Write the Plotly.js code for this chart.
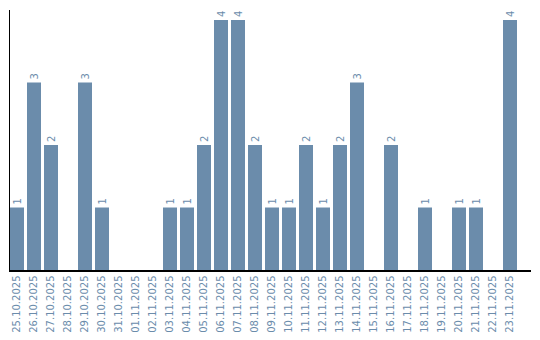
<!DOCTYPE html>
<html><head><meta charset="utf-8">
<script src="https://cdn.plot.ly/plotly-3.0.1.min.js"></script>
<style>body{margin:0}</style></head>
<body><div id="chart" style="width:540px;height:340px"></div>
<script>
const dates = ["25.10.2025","26.10.2025","27.10.2025","28.10.2025","29.10.2025","30.10.2025","31.10.2025","01.11.2025","02.11.2025","03.11.2025","04.11.2025","05.11.2025","06.11.2025","07.11.2025","08.11.2025","09.11.2025","10.11.2025","11.11.2025","12.11.2025","13.11.2025","14.11.2025","15.11.2025","16.11.2025","17.11.2025","18.11.2025","19.11.2025","20.11.2025","21.11.2025","22.11.2025","23.11.2025"];
const counts = [1,3,2,0,3,1,0,0,0,1,1,2,4,4,2,1,1,2,1,2,3,0,2,0,1,0,1,1,0,4];
const labels = counts.map(v => v > 0 ? String(v) : "");
const col = "#6b8cab";
Plotly.newPlot("chart", [{
  type: "bar", x: dates, y: counts, text: labels,
  textposition: "outside", textangle: -90, cliponaxis: false,
  textfont: {family: "DejaVu Sans", size: 10, color: col},
  marker: {color: col}, hoverinfo: "none"
}], {
  width: 540, height: 340,
  margin: {l: 10, r: 9, t: 10, b: 70},
  bargap: 0.1765,
  paper_bgcolor: "#fff", plot_bgcolor: "#fff",
  showlegend: false,
  xaxis: {type: "category", range: [-0.4118, 30.235], showline: true, linecolor: "#000", linewidth: 1.5, showgrid: false, ticks: "", tickangle: -90,
          tickfont: {family: "DejaVu Sans", size: 10, color: col}, fixedrange: true},
  yaxis: {range: [0, 4.16], showline: true, linecolor: "#000", linewidth: 1, showgrid: false, zeroline: false, showticklabels: false, ticks: "", fixedrange: true}
}, {displayModeBar: false, staticPlot: true});
</script></body></html>
